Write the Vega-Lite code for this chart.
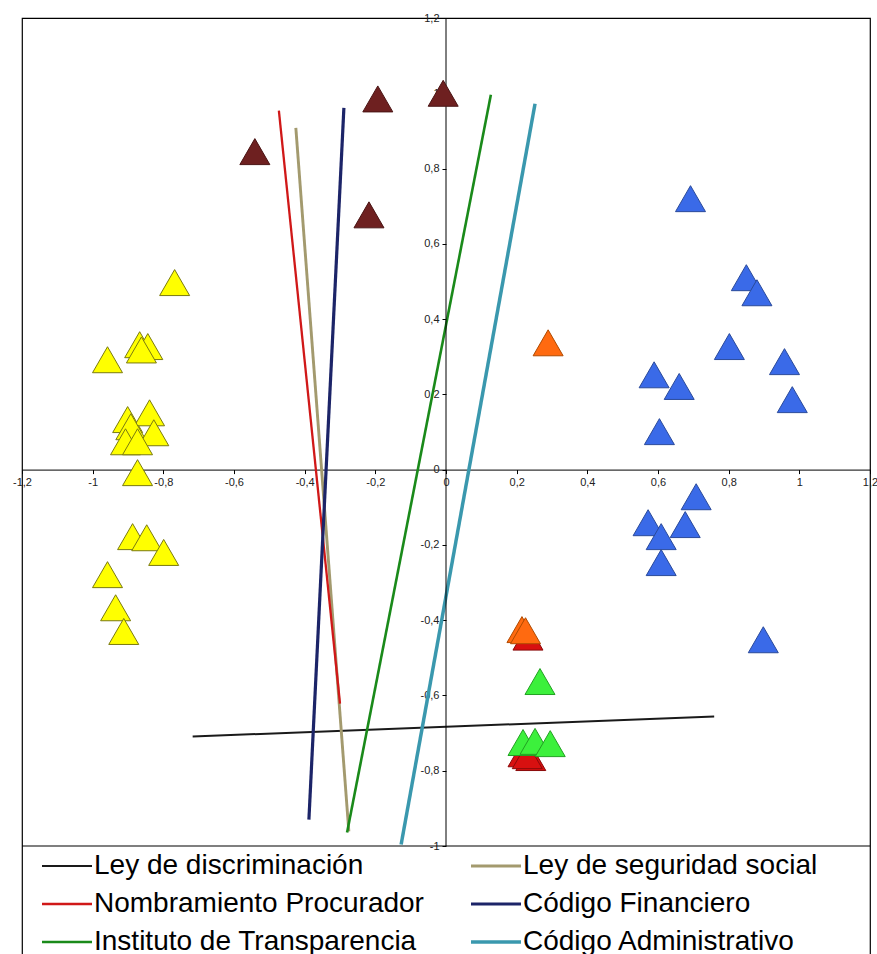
{
  "$schema": "https://vega.github.io/schema/vega-lite/v6.json",
  "width": 848,
  "height": 938,
  "autosize": {"type": "none"},
  "padding": {"left": 22, "top": 18, "right": 7, "bottom": 0},
  "background": "white",
  "config": {
    "view": {"stroke": "#000", "strokeWidth": 1.2},
    "axis": {
      "grid": false,
      "title": null,
      "domainColor": "#000",
      "tickColor": "#000",
      "tickSize": 4,
      "labelFont": "Liberation Sans",
      "labelFontSize": 11,
      "labelColor": "#222",
      "labelOverlap": false,
      "labelBound": false,
      "labelFlush": false,
      "labelPadding": 3,
      "labelExpr": "replace(replace(format(datum.value, '~g'), '.', ','), '\u2212', '-')"
    }
  },
  "datasets": {
    "lines": [
      {"series": "Ley de discriminación", "x": -0.717, "y": -0.709},
      {"series": "Ley de discriminación", "x": 0.759, "y": -0.656},
      {"series": "Ley de seguridad social", "x": -0.425, "y": 0.908},
      {"series": "Ley de seguridad social", "x": -0.275, "y": -0.961},
      {"series": "Nombramiento Procurador", "x": -0.473, "y": 0.954},
      {"series": "Nombramiento Procurador", "x": -0.3, "y": -0.622},
      {"series": "Código Financiero", "x": -0.289, "y": 0.961},
      {"series": "Código Financiero", "x": -0.388, "y": -0.93},
      {"series": "Instituto de Transparencia", "x": 0.127, "y": 0.996},
      {"series": "Instituto de Transparencia", "x": -0.28, "y": -0.964},
      {"series": "Código Administrativo", "x": 0.252, "y": 0.972},
      {"series": "Código Administrativo", "x": -0.127, "y": -0.996}
    ],
    "points": [
      {"group": "maroon", "x": -0.541, "y": 0.845},
      {"group": "maroon", "x": -0.193, "y": 0.985},
      {"group": "maroon", "x": -0.008, "y": 1.0},
      {"group": "maroon", "x": -0.218, "y": 0.677},
      {"group": "yellow", "x": -0.768, "y": 0.497},
      {"group": "yellow", "x": -0.958, "y": 0.292},
      {"group": "yellow", "x": -0.867, "y": 0.332},
      {"group": "yellow", "x": -0.844, "y": 0.327},
      {"group": "yellow", "x": -0.862, "y": 0.318},
      {"group": "yellow", "x": -0.901, "y": 0.133},
      {"group": "yellow", "x": -0.839, "y": 0.151},
      {"group": "yellow", "x": -0.892, "y": 0.114},
      {"group": "yellow", "x": -0.827, "y": 0.098},
      {"group": "yellow", "x": -0.907, "y": 0.074},
      {"group": "yellow", "x": -0.873, "y": 0.074},
      {"group": "yellow", "x": -0.873, "y": -0.008},
      {"group": "yellow", "x": -0.887, "y": -0.178},
      {"group": "yellow", "x": -0.847, "y": -0.181},
      {"group": "yellow", "x": -0.799, "y": -0.22},
      {"group": "yellow", "x": -0.958, "y": -0.279},
      {"group": "yellow", "x": -0.935, "y": -0.367},
      {"group": "yellow", "x": -0.912, "y": -0.43},
      {"group": "blue", "x": 0.692, "y": 0.72},
      {"group": "blue", "x": 0.85, "y": 0.51},
      {"group": "blue", "x": 0.88, "y": 0.47},
      {"group": "blue", "x": 0.802, "y": 0.327},
      {"group": "blue", "x": 0.958, "y": 0.287},
      {"group": "blue", "x": 0.98, "y": 0.186},
      {"group": "blue", "x": 0.589, "y": 0.252},
      {"group": "blue", "x": 0.66, "y": 0.221},
      {"group": "blue", "x": 0.604, "y": 0.101},
      {"group": "blue", "x": 0.708, "y": -0.072},
      {"group": "blue", "x": 0.572, "y": -0.141},
      {"group": "blue", "x": 0.677, "y": -0.146},
      {"group": "blue", "x": 0.609, "y": -0.178},
      {"group": "blue", "x": 0.609, "y": -0.247},
      {"group": "blue", "x": 0.898, "y": -0.452},
      {"group": "red", "x": 0.232, "y": -0.445},
      {"group": "red", "x": 0.218, "y": -0.755},
      {"group": "red", "x": 0.24, "y": -0.765},
      {"group": "red", "x": 0.23, "y": -0.76},
      {"group": "orange", "x": 0.289, "y": 0.337},
      {"group": "orange", "x": 0.215, "y": -0.425},
      {"group": "orange", "x": 0.225, "y": -0.428},
      {"group": "green", "x": 0.266, "y": -0.563},
      {"group": "green", "x": 0.218, "y": -0.725},
      {"group": "green", "x": 0.252, "y": -0.722},
      {"group": "green", "x": 0.295, "y": -0.728}
    ],
    "yaxisline": [{"x": 0, "y": -1, "y2": 1.2}],
    "bottomline": [{"y": -1}]
  },
  "layer": [
    {
      "data": {"name": "lines"},
      "mark": {"type": "line", "clip": true},
      "encoding": {
        "x": {
          "field": "x", "type": "quantitative",
          "scale": {"domain": [-1.2, 1.2], "nice": false, "zero": false},
          "axis": {"orient": "bottom", "offset": -486.4, "values": [-1.2, -1, -0.8, -0.6, -0.4, -0.2, 0, 0.2, 0.4, 0.6, 0.8, 1, 1.2]}
        },
        "y": {
          "field": "y", "type": "quantitative",
          "scale": {"domain": [-1.29227, 1.2], "nice": false, "zero": false},
          "axis": {"orient": "left", "offset": -424, "domain": false, "values": [-1, -0.8, -0.6, -0.4, -0.2, 0, 0.2, 0.4, 0.6, 0.8, 1, 1.2]}
        },
        "color": {
          "field": "series", "type": "nominal",
          "scale": {
            "domain": ["Ley de discriminación", "Nombramiento Procurador", "Instituto de Transparencia", "Ley de seguridad social", "Código Financiero", "Código Administrativo"],
            "range": ["#1a1a1a", "#d01818", "#1a8a1a", "#a39a6e", "#1c2468", "#3a98ae"]
          },
          "legend": {
            "orient": "none",
            "legendX": 0,
            "legendY": 829,
            "columns": 2,
            "title": null,
            "symbolType": "stroke",
            "symbolSize": 2500,
            "symbolStrokeWidth": 2,
            "symbolOffset": 18,
            "labelFont": "Liberation Sans",
            "labelFontSize": 28,
            "labelColor": "#000",
            "labelLimit": 500,
            "labelOffset": 0,
            "padding": 0,
            "clipHeight": 38,
            "gridAlign": "all",
            "columnPadding": 27,
            "rowPadding": 0
          }
        },
        "strokeWidth": {
          "field": "series", "type": "nominal",
          "scale": {
            "domain": ["Ley de discriminación", "Nombramiento Procurador", "Instituto de Transparencia", "Ley de seguridad social", "Código Financiero", "Código Administrativo"],
            "range": [2, 3.5, 2.2, 2, 2, 2]
          },
          "legend": null
        }
      }
    },
    {
      "data": {"name": "yaxisline"},
      "mark": {"type": "rule", "color": "#000", "strokeWidth": 1},
      "encoding": {
        "x": {"field": "x", "type": "quantitative"},
        "y": {"field": "y", "type": "quantitative"},
        "y2": {"field": "y2"}
      }
    },
    {
      "data": {"name": "bottomline"},
      "mark": {"type": "rule", "color": "#000", "strokeWidth": 1.2},
      "encoding": {
        "y": {"field": "y", "type": "quantitative"}
      }
    },
    {
      "data": {"name": "points"},
      "mark": {"type": "point", "shape": "triangle-up", "filled": true, "size": 900, "strokeWidth": 1, "opacity": 1},
      "encoding": {
        "x": {"field": "x", "type": "quantitative"},
        "y": {"field": "y", "type": "quantitative"},
        "fill": {
          "field": "group", "type": "nominal",
          "scale": {"domain": ["maroon", "yellow", "blue", "red", "orange", "green"], "range": ["#6e2020", "#ffff00", "#3a6ae8", "#d81010", "#ff6a10", "#3cf03c"]},
          "legend": null
        },
        "stroke": {
          "field": "group", "type": "nominal",
          "scale": {"domain": ["maroon", "yellow", "blue", "red", "orange", "green"], "range": ["#4a1414", "#7a7a10", "#2a4a9a", "#8a0a0a", "#b04a00", "#22a022"]},
          "legend": null
        }
      }
    }
  ]
}
